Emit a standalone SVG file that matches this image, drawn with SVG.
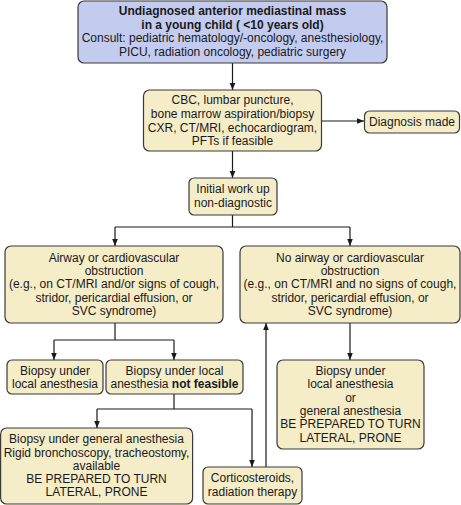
<svg xmlns="http://www.w3.org/2000/svg" width="461" height="505" viewBox="0 0 461 505">
<defs>
<style>
.b{fill:#f5ecc8;stroke:#3a3a3a;stroke-width:1.2}
.t{fill:#c3cbef;stroke:#3a3a3a;stroke-width:1.2}
text{font-family:"Liberation Sans",Arial,sans-serif;font-size:12px;fill:#1a1a1a;text-anchor:middle}
.bd{font-weight:bold}
.c{fill:none;stroke:#1a1a1a;stroke-width:1.2}
</style>
<marker id="ah" viewBox="0 0 10 10" refX="10" refY="5" markerWidth="7" markerHeight="7" markerUnits="userSpaceOnUse" orient="auto">
<path d="M0,1 L10,5 L0,9 Z" fill="#1a1a1a"/>
</marker>
</defs>
<rect width="461" height="505" fill="#fff"/>
<g id="connectors">
<path class="c" d="M232.5,63 V90" marker-end="url(#ah)"/>
<path class="c" d="M322,121 H364" marker-end="url(#ah)"/>
<path class="c" d="M232.5,151 V178" marker-end="url(#ah)"/>
<path class="c" d="M232.5,215 V227 M115,227 H350"/>
<path class="c" d="M115,227 V246" marker-end="url(#ah)"/>
<path class="c" d="M350,227 V246" marker-end="url(#ah)"/>
<path class="c" d="M115,323 V340 M54,340 H174"/>
<path class="c" d="M54,340 V360" marker-end="url(#ah)"/>
<path class="c" d="M174,340 V360" marker-end="url(#ah)"/>
<path class="c" d="M174,394 V409 M97,409 H252"/>
<path class="c" d="M97,409 V428" marker-end="url(#ah)"/>
<path class="c" d="M252,409 V467" marker-end="url(#ah)"/>
<path class="c" d="M266,467 V323" marker-end="url(#ah)"/>
<path class="c" d="M350,323 V360" marker-end="url(#ah)"/>
</g>
<g id="n1">
<rect class="t" x="78" y="1" width="309" height="62" rx="6"/>
<text class="bd" x="232.5" y="15">Undiagnosed anterior mediastinal mass</text>
<text class="bd" x="232.5" y="29">in a young child ( &lt;10 years old)</text>
<text x="232.5" y="42">Consult: pediatric hematology/-oncology, anesthesiology,</text>
<text x="232.5" y="56">PICU, radiation oncology, pediatric surgery</text>
</g>
<g id="n2">
<rect class="b" x="143.5" y="90" width="178" height="61" rx="6"/>
<text x="232.5" y="104">CBC, lumbar puncture,</text>
<text x="232.5" y="118">bone marrow aspiration/biopsy</text>
<text x="232.5" y="132">CXR, CT/MRI, echocardiogram,</text>
<text x="232.5" y="145">PFTs if feasible</text>
</g>
<g id="n3">
<rect class="b" x="364.5" y="111" width="95" height="22" rx="5"/>
<text x="412" y="125.5">Diagnosis made</text>
</g>
<g id="n4">
<rect class="b" x="189" y="178" width="88" height="37" rx="5"/>
<text x="233" y="193">Initial work up</text>
<text x="233" y="207">non-diagnostic</text>
</g>
<g id="n5">
<rect class="b" x="5" y="246" width="218" height="77" rx="6"/>
<text x="114" y="262">Airway or cardiovascular</text>
<text x="114" y="275">obstruction</text>
<text x="114" y="288">(e.g., on CT/MRI and/or signs of cough,</text>
<text x="114" y="302">stridor, pericardial effusion, or</text>
<text x="114" y="315">SVC syndrome)</text>
</g>
<g id="n6">
<rect class="b" x="240" y="246" width="220" height="77" rx="6"/>
<text x="350" y="262">No airway or cardiovascular</text>
<text x="350" y="275">obstruction</text>
<text x="350" y="288">(e.g., on CT/MRI and no signs of cough,</text>
<text x="350" y="302">stridor, pericardial effusion, or</text>
<text x="350" y="315">SVC syndrome)</text>
</g>
<g id="n7">
<rect class="b" x="7" y="360" width="96" height="34" rx="5"/>
<text x="55" y="375">Biopsy under</text>
<text x="55" y="388">local anesthesia</text>
</g>
<g id="n8">
<rect class="b" x="106" y="360" width="137" height="34" rx="5"/>
<text x="174.5" y="375">Biopsy under local</text>
<text x="174.5" y="388">anesthesia <tspan class="bd">not feasible</tspan></text>
</g>
<g id="n9">
<rect class="b" x="0.6" y="428" width="192" height="76" rx="6"/>
<text x="96.5" y="443">Biopsy under general anesthesia</text>
<text x="96.5" y="457">Rigid bronchoscopy, tracheostomy,</text>
<text x="96.5" y="470">available</text>
<text x="96.5" y="483">BE PREPARED TO TURN</text>
<text x="96.5" y="496">LATERAL, PRONE</text>
</g>
<g id="n10">
<rect class="b" x="203" y="467" width="99" height="37" rx="5"/>
<text x="252.5" y="482">Corticosteroids,</text>
<text x="252.5" y="496">radiation therapy</text>
</g>
<g id="n11">
<rect class="b" x="277" y="360" width="147" height="89" rx="6"/>
<text x="350.5" y="375">Biopsy under</text>
<text x="350.5" y="388">local anesthesia</text>
<text x="350.5" y="402">or</text>
<text x="350.5" y="415">general anesthesia</text>
<text x="350.5" y="428">BE PREPARED TO TURN</text>
<text x="350.5" y="442">LATERAL, PRONE</text>
</g>
</svg>
